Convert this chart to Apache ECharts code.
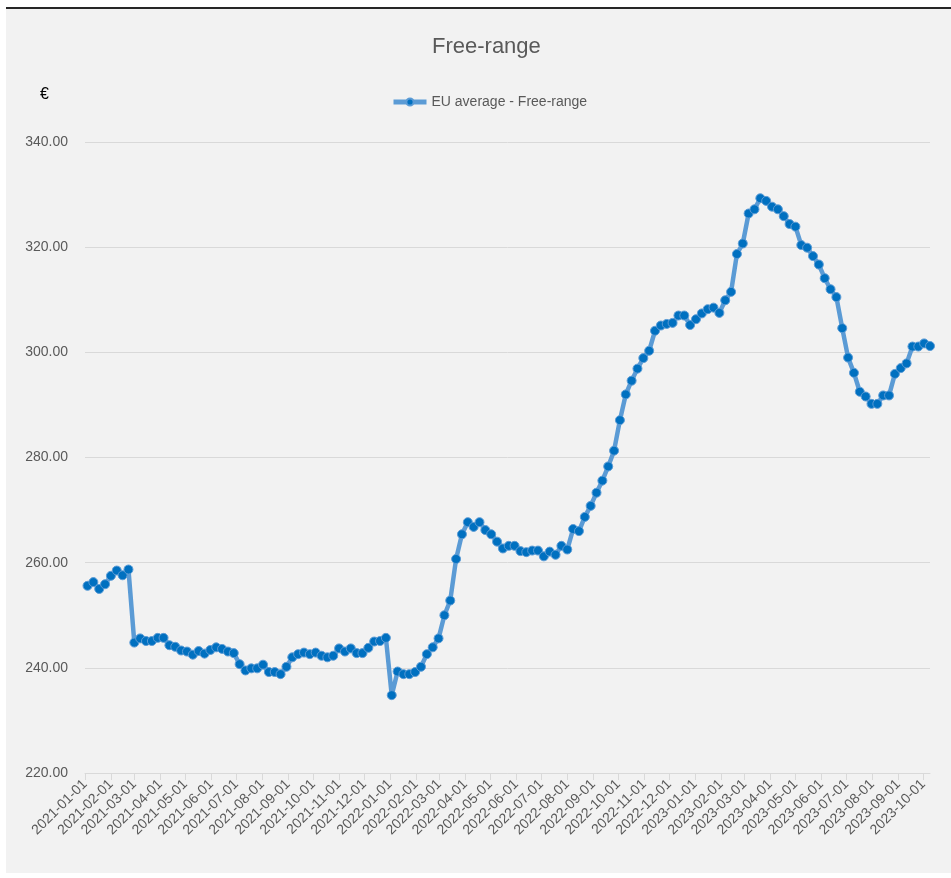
<!DOCTYPE html>
<html>
<head>
<meta charset="utf-8">
<script src="https://cdn.jsdelivr.net/npm/echarts@6/dist/echarts.min.js"></script>
<style>
  html, body { margin: 0; padding: 0; background: #ffffff; width: 951px; height: 878px; overflow: hidden; }
  #bg { position: absolute; left: 6px; top: 7px; right: 0; bottom: 5px; background: #f2f2f2; border-top: 2px solid #262626; }
  #chart { position: absolute; left: 0; top: 0; width: 951px; height: 878px; }
</style>
</head>
<body>
<div id="bg"></div>
<div id="chart"></div>
<script>
// Weekly reporting dates
const dates = [
  "2021-01-04","2021-01-11","2021-01-18","2021-01-25","2021-02-01","2021-02-08","2021-02-15","2021-02-22",
  "2021-03-01","2021-03-08","2021-03-15","2021-03-22","2021-03-29","2021-04-05","2021-04-12","2021-04-19","2021-04-26",
  "2021-05-03","2021-05-10","2021-05-17","2021-05-24","2021-05-31","2021-06-07","2021-06-14","2021-06-21","2021-06-28",
  "2021-07-05","2021-07-12","2021-07-19","2021-07-26","2021-08-02","2021-08-09","2021-08-16","2021-08-23","2021-08-30",
  "2021-09-06","2021-09-13","2021-09-20","2021-09-27","2021-10-04","2021-10-11","2021-10-18","2021-10-25",
  "2021-11-01","2021-11-08","2021-11-15","2021-11-22","2021-11-29","2021-12-06","2021-12-13","2021-12-20","2021-12-27",
  "2022-01-03","2022-01-10","2022-01-17","2022-01-24","2022-01-31","2022-02-07","2022-02-14","2022-02-21","2022-02-28",
  "2022-03-07","2022-03-14","2022-03-21","2022-03-28","2022-04-04","2022-04-11","2022-04-18","2022-04-25",
  "2022-05-02","2022-05-09","2022-05-16","2022-05-23","2022-05-30","2022-06-06","2022-06-13","2022-06-20","2022-06-27",
  "2022-07-04","2022-07-11","2022-07-18","2022-07-25","2022-08-01","2022-08-08","2022-08-15","2022-08-22","2022-08-29",
  "2022-09-05","2022-09-12","2022-09-19","2022-09-26","2022-10-03","2022-10-10","2022-10-17","2022-10-24","2022-10-31",
  "2022-11-07","2022-11-14","2022-11-21","2022-11-28","2022-12-05","2022-12-12","2022-12-19","2022-12-26",
  "2023-01-02","2023-01-09","2023-01-16","2023-01-23","2023-01-30","2023-02-06","2023-02-13","2023-02-20","2023-02-27",
  "2023-03-06","2023-03-13","2023-03-20","2023-03-27","2023-04-03","2023-04-10","2023-04-17","2023-04-24",
  "2023-05-01","2023-05-08","2023-05-15","2023-05-22","2023-05-29","2023-06-05","2023-06-12","2023-06-19","2023-06-26",
  "2023-07-03","2023-07-10","2023-07-17","2023-07-24","2023-07-31","2023-08-07","2023-08-14","2023-08-21","2023-08-28",
  "2023-09-04","2023-09-11","2023-09-18","2023-09-25","2023-10-02","2023-10-09"
];

// EU average - Free-range (EUR / 100 kg)
const euAverageFreeRange = [
  255.6,256.3,255.0,255.9,257.5,258.5,257.6,258.7,
  244.8,245.6,245.1,245.1,245.7,245.7,244.3,244.0,243.3,
  243.1,242.5,243.2,242.7,243.4,243.9,243.6,243.1,242.8,
  240.7,239.5,239.9,239.9,240.6,239.2,239.2,238.8,240.2,
  242.0,242.6,242.9,242.6,242.9,242.3,242.0,242.3,
  243.7,243.1,243.7,242.8,242.8,243.8,245.0,245.1,245.7,
  234.8,239.3,238.8,238.8,239.2,240.2,242.6,243.9,245.6,
  250.0,252.8,260.7,265.4,267.7,266.8,267.7,266.2,
  265.4,264.0,262.7,263.2,263.2,262.2,262.0,262.3,262.3,
  261.2,262.1,261.5,263.2,262.5,266.4,266.0,268.7,270.8,
  273.3,275.6,278.3,281.3,287.1,292.0,294.6,296.9,298.9,
  300.3,304.1,305.1,305.4,305.6,307.0,307.0,305.2,
  306.3,307.4,308.2,308.5,307.5,309.9,311.5,318.7,320.7,
  326.4,327.2,329.3,328.8,327.7,327.2,325.9,324.4,
  323.9,320.4,319.9,318.3,316.7,314.1,312.0,310.5,304.6,
  299.0,296.1,292.5,291.6,290.2,290.2,291.8,291.8,295.9,
  297.0,297.9,301.1,301.1,301.7,301.2
];

const seriesName = "EU average - Free-range";
const titleText = "Free-range";
const unitLabel = "€";
const axisStart = "2021-01-01";
const axisEnd = "2023-10-09";
const yMin = 220, yMax = 340, yStep = 20;

const chart = echarts.init(document.getElementById('chart'), null, { renderer: 'canvas' });
const font = "'Liberation Sans Narrow', 'Liberation Sans', 'DejaVu Sans', sans-serif";
const DAY = 86400000;

chart.setOption({
  backgroundColor: 'transparent',
  animation: false,
  textStyle: { fontFamily: font },
  title: {
    text: titleText,
    left: 427,
    top: 31,
    textStyle: { color: '#595959', fontSize: 22, fontWeight: 'normal', fontFamily: font }
  },
  legend: {
    data: [seriesName],
    top: 90,
    left: 386,
    itemWidth: 33,
    itemHeight: 9,
    itemGap: 4,
    lineStyle: { width: 5 },
    textStyle: { color: '#595959', fontSize: 14, fontFamily: font }
  },
  graphic: [{
    type: 'text',
    left: 40,
    top: 87,
    style: { text: unitLabel, fill: '#000000', font: "16px " + font }
  }],
  grid: { left: 85, right: 21, top: 142, bottom: 105, containLabel: false },
  xAxis: {
    type: 'time',
    min: axisStart,
    max: axisEnd,
    splitNumber: 40,
    minInterval: 28 * DAY,
    maxInterval: 31 * DAY,
    axisLine: { show: true, lineStyle: { color: '#d9d9d9', width: 1 } },
    axisTick: { show: true, length: 7, lineStyle: { color: '#d9d9d9' } },
    splitLine: { show: false },
    axisLabel: {
      rotate: 45,
      margin: 9,
      color: '#595959',
      fontSize: 14,
      fontFamily: font,
      formatter: '{yyyy}-{MM}-{dd}',
      showMaxLabel: false,
      hideOverlap: false
    }
  },
  yAxis: {
    type: 'value',
    min: yMin,
    max: yMax,
    interval: yStep,
    axisLine: { show: false },
    axisTick: { show: false },
    splitLine: { lineStyle: { color: '#d9d9d9', width: 1 } },
    axisLabel: {
      color: '#595959',
      fontSize: 14,
      margin: 17,
      fontFamily: font,
      formatter: v => v.toFixed(2)
    }
  },
  series: [{
    name: seriesName,
    type: 'line',
    data: dates.map((d, i) => [d, euAverageFreeRange[i]]),
    symbol: 'circle',
    symbolSize: 9,
    showSymbol: true,
    lineStyle: { color: '#5b9bd5', width: 4.5 },
    itemStyle: { color: '#0070c0', borderColor: '#5b9bd5', borderWidth: 1 },
    emphasis: { disabled: true }
  }]
});
</script>
</body>
</html>
